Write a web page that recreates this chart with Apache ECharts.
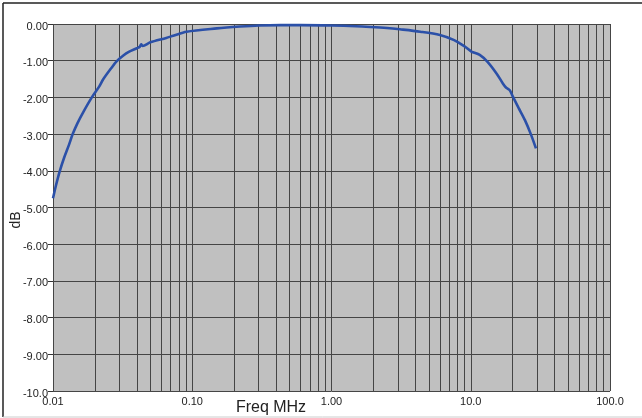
<!DOCTYPE html>
<html>
<head>
<meta charset="utf-8">
<script src="https://cdn.jsdelivr.net/npm/echarts@6/dist/echarts.min.js"></script>
<style>
html,body{margin:0;padding:0;background:#fff;}
#c{width:642px;height:418px;}
</style>
</head>
<body>
<div id="c"></div>
<script>
// Frequency (MHz) and response (dB)
const freqMHz = [0.01, 0.0105, 0.0112, 0.012, 0.013, 0.01385, 0.015, 0.0165, 0.019, 0.0215, 0.023, 0.026, 0.0286, 0.032, 0.035, 0.040, 0.042, 0.043, 0.044, 0.05, 0.065, 0.073, 0.091, 0.15, 0.22, 0.3, 0.43, 0.6, 1.0, 1.5, 1.9, 2.5, 3.1, 4.34, 6.0, 7.6, 9.1, 10.1, 11.6, 13.2, 15.4, 17.0, 17.9, 19.0, 19.9, 22.0, 24.5, 27.0, 29.4];
const gainDB  = [-4.75, -4.4, -4.0, -3.65, -3.3, -3.0, -2.7, -2.4, -2.0, -1.7, -1.5, -1.22, -1.02, -0.86, -0.76, -0.66, -0.62, -0.55, -0.60, -0.50, -0.38, -0.32, -0.21, -0.12, -0.07, -0.04, -0.03, -0.03, -0.04, -0.06, -0.08, -0.11, -0.145, -0.21, -0.30, -0.44, -0.62, -0.75, -0.84, -1.03, -1.36, -1.62, -1.73, -1.80, -1.95, -2.28, -2.62, -3.0, -3.39];
// Axis ticks
const xTickValues = [0.01, 0.1, 1, 10, 100];
const xTickLabels = ['0.01', '0.10', '1.00', '10.0', '100.0'];
const xMinorGrid = [0.02,0.03,0.04,0.05,0.06,0.07,0.08,0.09, 0.2,0.3,0.4,0.5,0.6,0.7,0.8,0.9, 2,3,4,5,6,7,8,9, 20,30,40,50,60,70,80,90];
const yTickValues = [0, -1, -2, -3, -4, -5, -6, -7, -8, -9, -10];
const yTickLabels = ['0.00', '-1.00', '-2.00', '-3.00', '-4.00', '-5.00', '-6.00', '-7.00', '-8.00', '-9.00', '-10.0'];

const chart = echarts.init(document.getElementById('c'), null, {renderer: 'canvas'});
const font = 'Liberation Sans, Arial, sans-serif';
const gridColor = '#454545';

function xLabel(v) {
  for (let i = 0; i < xTickValues.length; i++) {
    if (Math.abs(Math.log10(v) - Math.log10(xTickValues[i])) < 1e-6) return xTickLabels[i];
  }
  return '';
}
function yLabel(v) {
  const i = yTickValues.findIndex(t => Math.abs(t - v) < 1e-9);
  return i >= 0 ? yTickLabels[i] : '';
}

chart.setOption({
  animation: false,
  backgroundColor: '#ffffff',
  grid: {left: 53, top: 24, right: 32, bottom: 27, show: true, backgroundColor: '#c0c0c0', borderWidth: 0},
  xAxis: {
    type: 'log', logBase: 10, min: 0.01, max: 100,
    axisLine: {show: false},
    axisTick: {show: false},
    axisLabel: {formatter: xLabel, fontFamily: font, fontSize: 11, color: '#222', margin: 5},
    splitLine: {show: true, lineStyle: {color: gridColor, width: 1}}
  },
  yAxis: {
    type: 'value', min: -10, max: 0, interval: 1,
    axisLine: {show: false},
    axisTick: {show: true, length: 5, lineStyle: {color: '#333'}},
    axisLabel: {formatter: yLabel, fontFamily: font, fontSize: 11, color: '#222', margin: 5, verticalAlign: 'top', lineHeight: 5},
    splitLine: {show: true, lineStyle: {color: gridColor, width: 1}}
  },
  series: [
    {
      type: 'line', data: [], silent: true, z: 1,
      markLine: {
        silent: true, symbol: ['none', 'none'], animation: false,
        label: {show: false},
        lineStyle: {type: 'solid', color: gridColor, width: 1},
        data: xMinorGrid.map(v => ({xAxis: v}))
      }
    },
    {
      type: 'line', z: 5,
      data: freqMHz.map((f, i) => [f, gainDB[i]]),
      showSymbol: false, smooth: 0.3,
      lineStyle: {color: '#2b50a8', width: 2.6},
      itemStyle: {color: '#2b50a8'}
    }
  ],
  graphic: [
    {type: 'line', shape: {x1: 3, y1: 3, x2: 642, y2: 3}, style: {stroke: '#222', lineWidth: 1.5}},
    {type: 'line', shape: {x1: 3, y1: 3, x2: 3, y2: 417}, style: {stroke: '#222', lineWidth: 1.5}},
    {type: 'line', shape: {x1: 3, y1: 417, x2: 642, y2: 417}, style: {stroke: '#cccccc', lineWidth: 1}},
    {type: 'text', x: 271, y: 408, style: {text: 'Freq MHz', font: '16px ' + font, fill: '#222', textAlign: 'center', textVerticalAlign: 'middle'}},
    {type: 'text', x: 16, y: 220, rotation: Math.PI / 2, style: {text: 'dB', font: '14px ' + font, fill: '#222', textAlign: 'center', textVerticalAlign: 'middle'}}
  ]
});
</script>
</body>
</html>
